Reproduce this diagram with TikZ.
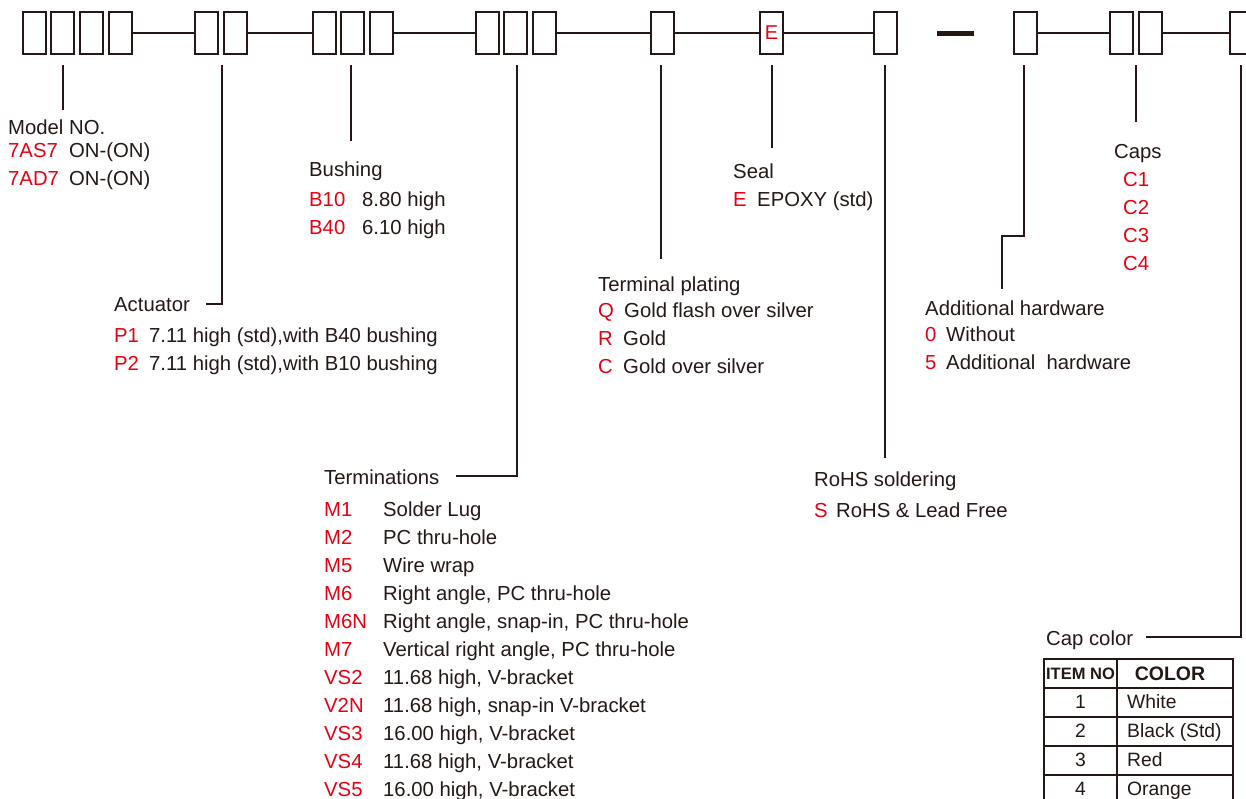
\documentclass[tikz,border=0pt]{standalone}
\usepackage{fontspec}
\setmainfont{Liberation Sans}
\definecolor{ink}{HTML}{231815}
\definecolor{code}{HTML}{E60012}
\begin{document}
\begin{tikzpicture}[x=1pt,y=-1pt,
  box/.style={draw=ink,line width=2pt,minimum width=23pt,minimum height=42pt,inner sep=0pt},
  wire/.style={draw=ink,line width=1.7pt},
  lbl/.style={anchor=base west,inner sep=0pt,text=ink,font=\fontsize{20.3}{24}\selectfont},
  red/.style={lbl,text=code},
  tb/.style={draw=ink,line width=1.4pt},
  cell/.style={anchor=base,inner sep=0pt,text=ink,font=\fontsize{19.3}{22}\selectfont}]
\clip (0,0) rectangle (1246,799);
% boxes
\node[box] (b1) at (34.5,33) {};
\node[box] (b2) at (62.5,33) {};
\node[box] (b3) at (91.5,33) {};
\node[box] (b4) at (120.5,33) {};
\node[box] (b5) at (206.5,33) {};
\node[box] (b6) at (235.5,33) {};
\node[box] (b7) at (324.5,33) {};
\node[box] (b8) at (352.5,33) {};
\node[box] (b9) at (381.5,33) {};
\node[box] (b10) at (487.5,33) {};
\node[box] (b11) at (515.5,33) {};
\node[box] (b12) at (544.5,33) {};
\node[box] (b13) at (662.5,33) {};
\node[box,text=code,font=\fontsize{20}{24}\selectfont] (b14) at (771.5,33) {E};
\node[box] (b15) at (885.5,33) {};
\node[fill=ink,minimum width=37pt,minimum height=5pt,inner sep=0pt] (dash) at (955.5,33.5) {};
\node[box] (b16) at (1025.5,33) {};
\node[box] (b17) at (1121.5,33) {};
\node[box] (b18) at (1150.5,33) {};
\node[box] (b19) at (1241.5,33) {};
\draw[wire] (b4.east) -- (b5.west);
\draw[wire] (b6.east) -- (b7.west);
\draw[wire] (b9.east) -- (b10.west);
\draw[wire] (b12.east) -- (b13.west);
\draw[wire] (b13.east) -- (b14.west);
\draw[wire] (b14.east) -- (b15.west);
\draw[wire] (b16.east) -- (b17.west);
\draw[wire] (b18.east) -- (b19.west);
% stem coordinates
\coordinate (s1) at (63,65);   \coordinate (e1) at (63,110);
\coordinate (s2) at (222,65);  \coordinate (k2) at (222,304); \coordinate (e2) at (206,304);
\coordinate (s3) at (351,65);  \coordinate (e3) at (351,141);
\coordinate (s4) at (517,65);  \coordinate (k4) at (517,476); \coordinate (e4) at (456,476);
\coordinate (s5) at (661,65);  \coordinate (e5) at (661,259);
\coordinate (s6) at (772,65);  \coordinate (e6) at (772,148);
\coordinate (s7) at (885,65);  \coordinate (e7) at (885,458);
\coordinate (s8) at (1024,65); \coordinate (k8) at (1024,236); \coordinate (m8) at (1002,236); \coordinate (e8) at (1002,289);
\coordinate (s9) at (1136,65); \coordinate (e9) at (1136,122);
\coordinate (s10) at (1241,65); \coordinate (k10) at (1241,637); \coordinate (e10) at (1146,637);
\draw[wire] (s1) -- (e1);
\draw[wire] (s2) -- (k2) -- (e2);
\draw[wire] (s3) -- (e3);
\draw[wire] (s4) -- (k4) -- (e4);
\draw[wire] (s5) -- (e5);
\draw[wire] (s6) -- (e6);
\draw[wire] (s7) -- (e7);
\draw[wire] (s8) -- (k8) -- (m8) -- (e8);
\draw[wire] (s9) -- (e9);
\draw[wire] (s10) -- (k10) -- (e10);
% Model NO.
\node[lbl] (t1) at (8,135) {Model NO.};
\node[red] (t1a) at (8,158) {7AS7};
\node[lbl] (t1b) at (69,158) {ON-(ON)};
\node[red] (t1c) at (8,186) {7AD7};
\node[lbl] (t1d) at (69,186) {ON-(ON)};
% Actuator
\node[lbl] (t2) at (114,311) {Actuator};
\node[red] (t2a) at (114,342) {P1};
\node[lbl] (t2b) at (149,342) {7.11 high (std),with B40 bushing};
\node[red] (t2c) at (114,370) {P2};
\node[lbl] (t2d) at (149,370) {7.11 high (std),with B10 bushing};
% Bushing
\node[lbl] (t3) at (309,177) {Bushing};
\node[red] (t3a) at (309,207) {B10};
\node[lbl] (t3b) at (362,207) {8.80 high};
\node[red] (t3c) at (309,235) {B40};
\node[lbl] (t3d) at (362,235) {6.10 high};
% Terminations
\node[lbl] (t4) at (324,484) {Terminations};
\foreach \c/\d [count=\i from 0] in {M1/Solder Lug,M2/PC thru-hole,M5/Wire wrap,M6/{Right angle, PC thru-hole},M6N/{Right angle, snap-in, PC thru-hole},M7/{Vertical right angle, PC thru-hole},VS2/{11.68 high, V-bracket},V2N/{11.68 high, snap-in V-bracket},VS3/{16.00 high, V-bracket},VS4/{11.68 high, V-bracket},VS5/{16.00 high, V-bracket}}{
  \node[red] (tc\i) at (324,516+28*\i) {\c};
  \node[lbl] (td\i) at (383,516+28*\i) {\d};
}
% Terminal plating
\node[lbl] (t5) at (598,291) {Terminal plating};
\node[red] (t5a) at (598,317) {Q};
\node[lbl] (t5b) at (624,317) {Gold flash over silver};
\node[red] (t5c) at (598,345) {R};
\node[lbl] (t5d) at (623,345) {Gold};
\node[red] (t5e) at (598,373) {C};
\node[lbl] (t5f) at (623,373) {Gold over silver};
% Seal
\node[lbl] (t6) at (733,179) {Seal};
\node[red] (t6a) at (733,207) {E};
\node[lbl] (t6b) at (757,207) {EPOXY (std)};
% RoHS
\node[lbl] (t7) at (814,486) {RoHS soldering};
\node[red] (t7a) at (814,517) {S};
\node[lbl] (t7b) at (836,517) {RoHS \& Lead Free};
% Additional hardware
\node[lbl] (t8) at (925,316) {Additional hardware};
\node[red] (t8a) at (925,341) {0};
\node[lbl] (t8b) at (946,341) {Without};
\node[red] (t8c) at (925,369) {5};
\node[lbl] (t8d) at (946,369) {Additional\ \ hardware};
% Caps
\node[lbl] (t9) at (1114,159) {Caps};
\node[red] (t9a) at (1123,187) {C1};
\node[red] (t9b) at (1123,215) {C2};
\node[red] (t9c) at (1123,243) {C3};
\node[red] (t9d) at (1123,271) {C4};
% Cap color
\node[lbl] (t10) at (1046,645) {Cap color};
% table
\draw[tb] (1044,810) -- (1044,659) -- (1233,659) -- (1233,810);
\draw[tb] (1117,659) -- (1117,810);
\foreach \y in {688,717,746,775}{\draw[tb] (1044,\y) -- (1233,\y);}
\node[cell,font=\bfseries\fontsize{16.5}{18}\selectfont] (h1) at (1080.5,679) {ITEM NO};
\node[cell,font=\bfseries\fontsize{19.5}{22}\selectfont] (h2) at (1170,680) {COLOR};
\foreach \n/\c [count=\i from 0] in {1/White,2/Black (Std),3/Red,4/Orange}{
  \node[cell] (n\i) at (1080.5,708.5+29*\i) {\n};
  \node[cell,anchor=base west] (c\i) at (1127,708.5+29*\i) {\c};
}
\end{tikzpicture}
\end{document}
